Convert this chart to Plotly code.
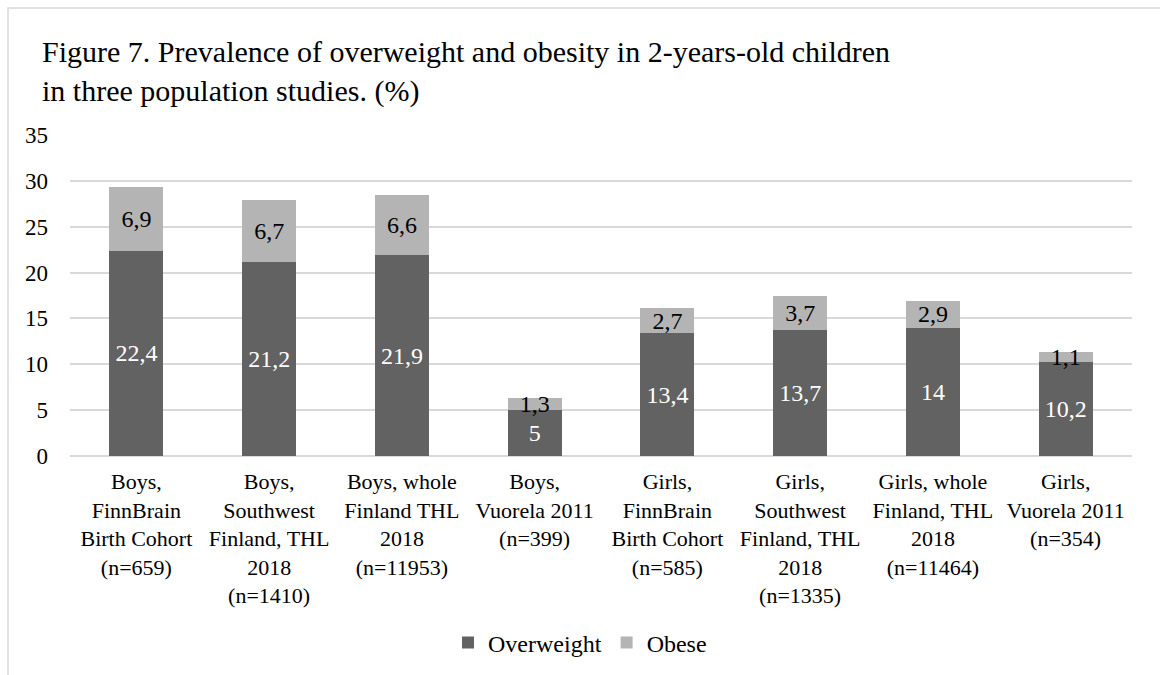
import plotly.graph_objects as go

categories = [
    "Boys,<br>FinnBrain<br>Birth Cohort<br>(n=659)",
    "Boys,<br>Southwest<br>Finland, THL<br>2018<br>(n=1410)",
    "Boys, whole<br>Finland THL<br>2018<br>(n=11953)",
    "Boys,<br>Vuorela 2011<br>(n=399)",
    "Girls,<br>FinnBrain<br>Birth Cohort<br>(n=585)",
    "Girls,<br>Southwest<br>Finland, THL<br>2018<br>(n=1335)",
    "Girls, whole<br>Finland, THL<br>2018<br>(n=11464)",
    "Girls,<br>Vuorela 2011<br>(n=354)",
]
overweight = [22.4, 21.2, 21.9, 5, 13.4, 13.7, 14, 10.2]
obese = [6.9, 6.7, 6.6, 1.3, 2.7, 3.7, 2.9, 1.1]
y_ticks = [0, 5, 10, 15, 20, 25, 30, 35]

FONT = "Liberation Serif"


def fi(v):
    # Finnish decimal comma
    return f"{v:g}".replace(".", ",")


W, H = 1160, 675
L, R, T, B = 70, 28, 135, 219
pw, ph = W - L - R, H - T - B

fig = go.Figure()
fig.add_trace(go.Bar(
    name="Overweight", x=categories, y=overweight,
    marker=dict(color="#626262", line=dict(width=0)),
    text=[fi(v) for v in overweight], textposition="inside",
    insidetextanchor="middle", constraintext="none",
    textfont=dict(family=FONT, size=24, color="#ffffff"),
    hoverinfo="skip",
))
fig.add_trace(go.Bar(
    name="Obese", x=categories, y=obese,
    marker=dict(color="#b4b4b4", line=dict(width=0)),
    text=[fi(v) for v in obese], textposition="inside",
    insidetextanchor="middle", constraintext="none",
    textfont=dict(family=FONT, size=24, color="#000000"),
    hoverinfo="skip",
))

# chart frame (left and top edges visible)
fig.add_shape(
    type="rect", xref="paper", yref="paper",
    x0=(8 - L) / pw, x1=(W + 6 - L) / pw,
    y0=(T + ph - (H + 6)) / ph, y1=(T + ph - 8) / ph,
    line=dict(color="#d9d9d9", width=1.5), fillcolor="rgba(0,0,0,0)",
    layer="below",
)

fig.update_layout(
    width=W, height=H,
    margin=dict(l=L, r=R, t=T, b=B, autoexpand=False),
    paper_bgcolor="#ffffff", plot_bgcolor="#ffffff",
    barmode="stack", bargap=0.593,
    font=dict(family=FONT, color="#000000"),
    title=dict(
        text="Figure 7. Prevalence of overweight and obesity in 2-years-old children<br>in three population studies. (%)",
        font=dict(family=FONT, size=30, color="#000000"),
        x=42 / W, xanchor="left", xref="container",
        y=1 - 62 / H, yanchor="top", yref="container",
    ),
    xaxis=dict(
        showgrid=False, showline=False, zeroline=False,
        tickfont=dict(family=FONT, size=22, color="#000000"),
        ticks="", tickangle=0, ticklabelstandoff=10,
    ),
    yaxis=dict(
        range=[0, 35], tickvals=y_ticks,
        showgrid=True, gridcolor="#d9d9d9", gridwidth=1.5,
        zeroline=True, zerolinecolor="#d9d9d9", zerolinewidth=1.5,
        showline=False, ticks="",
        tickfont=dict(family=FONT, size=23, color="#000000"),
        ticklabelstandoff=21,
    ),
    legend=dict(
        orientation="h", x=0.5 + (580 - (L + pw / 2)) / pw, xanchor="center",
        y=(T + ph - 643) / ph, yanchor="middle",
        font=dict(family=FONT, size=24, color="#000000"),
        itemwidth=30, traceorder="normal",
    ),
    showlegend=True,
)

fig.write_html("out.html")
